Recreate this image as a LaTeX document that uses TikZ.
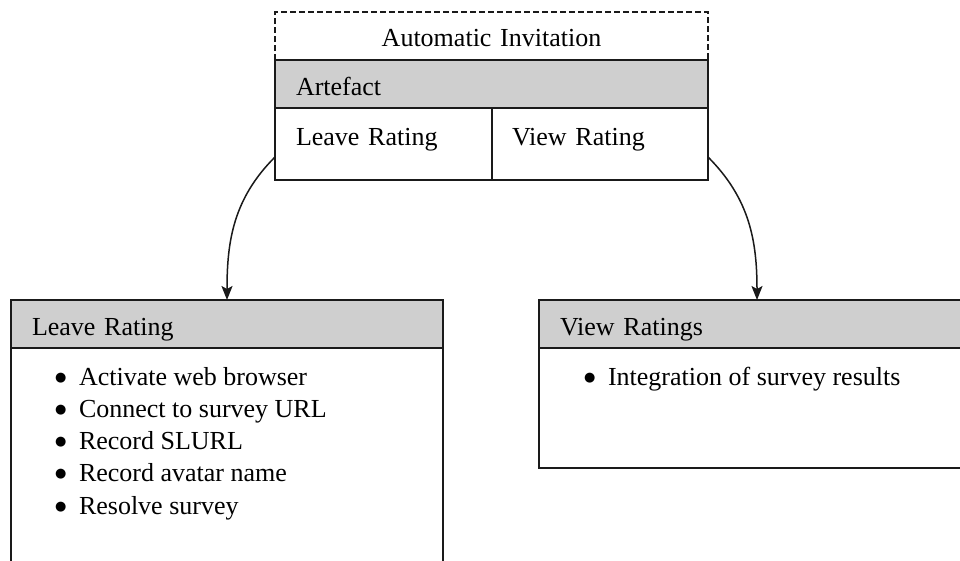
\documentclass[tikz,border=0pt]{standalone}
\usepackage{fontspec}
\setmainfont{Liberation Serif}
\newfontfamily\dejavu{DejaVu Sans}
\usetikzlibrary{arrows.meta}
\definecolor{hdr}{HTML}{CFCFCF}
\definecolor{ln}{HTML}{1A1A1A}
\newcommand{\bigbul}{\makebox[24pt][l]{\raisebox{3.8pt}{\dejavu\fontsize{13}{13}\selectfont ●}}}
\begin{document}
\begin{tikzpicture}[x=1pt,y=-1pt,
  every node/.style={font=\fontsize{26}{32}\selectfont, inner sep=0pt, outer sep=0pt},
  cellbox/.style={draw=ln, line width=2pt, anchor=north west, align=left},
  hdrbox/.style={cellbox, fill=hdr, text height=35pt, text depth=13pt},
  item/.style={anchor=base west},
  conn/.style={draw=ln, line width=1.5pt, -{Stealth[length=14pt,width=11pt,inset=3pt]}}
]
\useasboundingbox (0,0) rectangle (960,560);
\fill[white] (0,0) rectangle (960,560);
\clip (0,0) rectangle (960,560);

% top component
\node[anchor=north west, text width=433pt, align=center, text height=34.7pt, text depth=13.3pt] (inv) at (275,12) {Automatic Invitation};
\draw[ln, line width=2pt, dash pattern=on 6pt off 3pt] (inv.south west) -- (inv.north west) -- (inv.north east) -- (inv.south east);
\node[hdrbox, inner xsep=21pt, text width=391pt] (art) at (275,60) {Artefact};
\node[cellbox, inner xsep=21pt, text width=175pt, text height=37.5pt, text depth=34.5pt] (lv) at (275,108) {Leave Rating};
\node[cellbox, inner xsep=20pt, text width=176pt, text height=37.5pt, text depth=34.5pt] (vw) at (492,108) {View Rating};

% left box
\node[hdrbox, inner xsep=21pt, text width=390pt] (lhead) at (11,300) {Leave Rating};
\node[cellbox, minimum width=432pt, minimum height=240pt] (lbody) at (11,348) {};
\node[item] (l1) at (55,385) {\bigbul Activate web browser};
\node[item] (l2) at (55,417) {\bigbul Connect to survey URL};
\node[item] (l3) at (55,449) {\bigbul Record SLURL};
\node[item] (l4) at (55,481) {\bigbul Record avatar name};
\node[item] (l5) at (55,514) {\bigbul Resolve survey};

% right box
\node[hdrbox, inner xsep=21pt, text width=394pt] (rhead) at (539,300) {View Ratings};
\node[cellbox, minimum width=436pt, minimum height=120pt] (rbody) at (539,348) {};
\node[item] (r1) at (584,385) {\bigbul Integration of survey results};

% connectors
\draw[conn] ([yshift=-13pt]lv.west) to[out=225,in=90] (lhead.north);
\draw[conn] ([yshift=-13pt]vw.east) to[out=-45,in=90] (rhead.north);
\end{tikzpicture}
\end{document}
